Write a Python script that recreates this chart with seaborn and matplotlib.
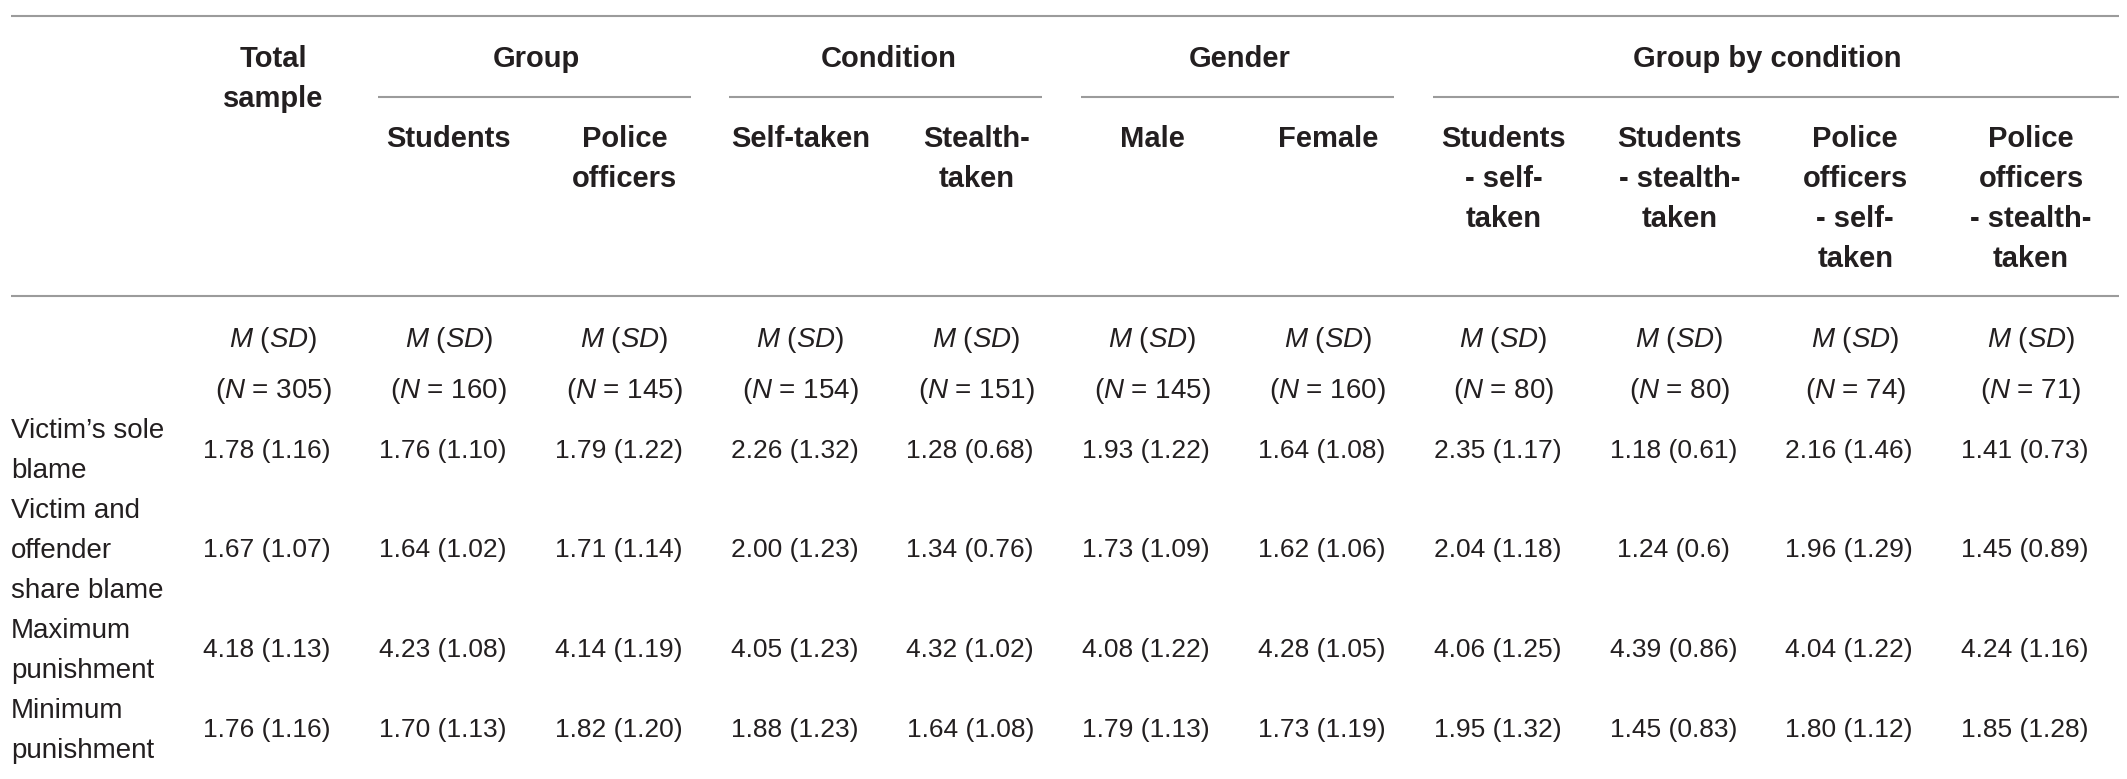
import matplotlib
matplotlib.use("Agg")
import matplotlib.pyplot as plt
import seaborn as sns

sns.set_theme(style="white")
plt.rcParams["font.family"] = ["Liberation Sans", "DejaVu Sans"]
plt.rcParams["mathtext.fontset"] = "custom"
plt.rcParams["mathtext.it"] = "Liberation Sans:italic"
plt.rcParams["mathtext.rm"] = "Liberation Sans"

# table content
group_names = ["Group", "Condition", "Gender", "Group by condition"]
group_cols = [(1, 2), (3, 4), (5, 6), (7, 10)]
sub_headers = [
    "Total\nsample",
    "Students",
    "Police\nofficers",
    "Self-taken",
    "Stealth-\ntaken",
    "Male",
    "Female",
    "Students\n- self-\ntaken",
    "Students\n- stealth-\ntaken",
    "Police\nofficers\n- self-\ntaken",
    "Police\nofficers\n- stealth-\ntaken",
]
n_sizes = [305, 160, 145, 154, 151, 145, 160, 80, 80, 74, 71]
measures = [
    "Victim’s sole\nblame",
    "Victim and\noffender\nshare blame",
    "Maximum\npunishment",
    "Minimum\npunishment",
]
sole_blame = ["1.78 (1.16)", "1.76 (1.10)", "1.79 (1.22)", "2.26 (1.32)", "1.28 (0.68)",
              "1.93 (1.22)", "1.64 (1.08)", "2.35 (1.17)", "1.18 (0.61)", "2.16 (1.46)", "1.41 (0.73)"]
shared_blame = ["1.67 (1.07)", "1.64 (1.02)", "1.71 (1.14)", "2.00 (1.23)", "1.34 (0.76)",
                "1.73 (1.09)", "1.62 (1.06)", "2.04 (1.18)", "1.24 (0.6)", "1.96 (1.29)", "1.45 (0.89)"]
max_punish = ["4.18 (1.13)", "4.23 (1.08)", "4.14 (1.19)", "4.05 (1.23)", "4.32 (1.02)",
              "4.08 (1.22)", "4.28 (1.05)", "4.06 (1.25)", "4.39 (0.86)", "4.04 (1.22)", "4.24 (1.16)"]
min_punish = ["1.76 (1.16)", "1.70 (1.13)", "1.82 (1.20)", "1.88 (1.23)", "1.64 (1.08)",
              "1.79 (1.13)", "1.73 (1.19)", "1.95 (1.32)", "1.45 (0.83)", "1.80 (1.12)", "1.85 (1.28)"]
rows = [sole_blame, shared_blame, max_punish, min_punish]

# layout (pixels, y down)
W, H = 2127, 779
col_x = [273 + 175.8 * i for i in range(11)]
left, right = 11, 2119
line_h = 40
txt = "#231f20"
rule = "#9b9b9b"
bold = dict(weight="bold", size=21, color=txt)
plain = dict(size=20, color=txt)
cells = dict(size=19, color=txt)

fig = plt.figure(figsize=(W / 100, H / 100), dpi=100)
ax = fig.add_axes([0, 0, 1, 1])
ax.set_xlim(0, W)
ax.set_ylim(H, 0)
ax.axis("off")

# rules
ax.hlines([16, 296], left, right, color=rule, lw=1.5)
for name, (a, b) in zip(group_names, group_cols):
    x0 = col_x[a] - 88 + 17
    x1 = right if b == 10 else col_x[b] + 88 - 22
    ax.hlines(97, x0, x1, color=rule, lw=1.5)
    ax.text((col_x[a] + col_x[b]) / 2, 57 + 10, name, ha="center", va="baseline", **bold)

# header cells
for i, head in enumerate(sub_headers):
    y0 = 57 if i == 0 else 137
    for k, part in enumerate(head.split("\n")):
        ax.text(col_x[i], y0 + k * line_h + 10, part, ha="center", va="baseline", **bold)

# M (SD) and N row
for i, n in enumerate(n_sizes):
    ax.text(col_x[i], 337 + 10, r"$M$ ($SD$)", ha="center", va="baseline", **plain)
    ax.text(col_x[i], 388 + 10, rf"($N$ = {n})", ha="center", va="baseline", **plain)

# body
label_y = 428
value_y = [448, 547, 647, 727]
for r, (label, vals) in enumerate(zip(measures, rows)):
    parts = label.split("\n")
    for k, part in enumerate(parts):
        ax.text(left, label_y + k * line_h + 10, part, ha="left", va="baseline", **plain)
    label_y += len(parts) * line_h
    for i, v in enumerate(vals):
        ax.text(col_x[i] - 6, value_y[r] + 10, v, ha="center", va="baseline", **cells)

fig.savefig("out.png", dpi=100)
